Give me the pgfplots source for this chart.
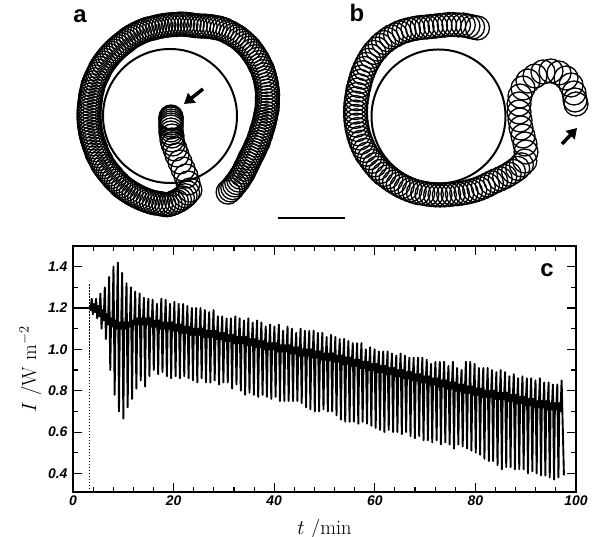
\documentclass[border=0pt]{standalone}
\usepackage{fontspec}
\setsansfont{Liberation Sans}
\usepackage{pgfplots}
\pgfplotsset{compat=1.18}
\usetikzlibrary{arrows.meta}

% one hidden axis over the whole page, for the drawings of panels a and b
\pgfplotsset{sketch/.style={hide axis, clip=false, scale only axis,
    width=595bp, height=537bp, at={(0,0)}, anchor=south west},
  loop/.style={only marks, mark=o, mark size=12bp, mark options={line width=1.3pt}}}

\begin{document}
\begin{tikzpicture}
\path[use as bounding box] (0,0) rectangle (595bp,537bp);

% panel a: ring of tip loops, polar about (178,115) of the image
\begin{axis}[sketch, xmin=-178, xmax=417, ymin=-422, ymax=115]
\addplot[data cs=polar, loop] coordinates {
(-57,92) (-55,91.5) (-53,91) (-51,90) (-49,89.5) (-47,89) (-45,88) (-43,87.5) (-41,87) (-39,86)
(-37,85.5) (-35,85) (-33,84.5) (-31,84) (-29,84) (-27,84) (-25,84) (-23,84) (-21,84) (-19,84.5)
(-17,84.5) (-15,84.5) (-13,85) (-11,85) (-9,85.5) (-7,86) (-5,86.5) (-3,87) (-1,87.5) (1,88)
(3,89) (5,89.5) (7,90) (9,90.5) (11,91) (13,92) (15,92.5) (17,93) (19,93.5) (21,94)
(23,94.5) (25,95) (27,95.5) (29,96) (31,96) (33,96.5) (35,97) (37,97) (39,97.5) (41,97.5)
(43,98) (45,98) (47,98) (49,98) (51,98) (53,98) (55,97.5) (57,97.5) (59,97) (61,97)
(63,96.5) (65,96) (67,95) (69,94.5) (71,93.5) (73,93) (75,92) (77,91.5) (79,91) (81,91)
(83,91) (85,91) (87,91) (89,91) (91,90.5) (93,90.5) (95,90.5) (97,90.5) (99,90.5) (101,90.5)
(103,90.5) (105,90.5) (107,90.5) (109,91) (111,91) (113,91) (115,91) (117,91) (119,91) (121,91)
(123,91) (125,90.5) (127,90.5) (129,90.5) (131,90.5) (133,90.5) (135,90.5) (137,90.5) (139,90.5) (141,90.5)
(143,90.5) (145,90.5) (147,90.5) (149,90.5) (151,90) (153,90) (155,90) (157,90) (159,90) (161,90)
(163,89.5) (165,89.5) (167,89.5) (169,89) (171,89) (173,89) (175,89) (177,89) (179,89) (181,89)
(183,89) (185,89) (187,89) (189,89) (191,89) (193,89) (195,89) (197,89) (199,89) (201,89)
(203,89) (205,89.5) (207,89.5) (209,89.5) (211,89.5) (213,90) (215,90) (217,90) (219,90) (221,90)
(223,90) (225,90.5) (227,90.5) (229,90.5) (231,91) (233,91) (235,91) (237,91) (239,91) (241,91)
(243,91) (245,91) (247,91) (249,91) (251,91) (253,91) (255,91) (257,90.5) (259,90.5) (261,90.5)
(263,90.5) (265,89.5) (267,88) (269,86.5) (271,85) (273,83) (275,81) (277,78.5) (279,76)
};
\end{axis}

% panel b: ring of tip loops, polar about (440,112) of the image
\begin{axis}[sketch, xmin=-440, xmax=155, ymin=-425, ymax=112]
\addplot[data cs=polar, loop] coordinates {
(66,92) (69,91) (72,90.5) (75,90) (78,89) (81,88.5) (84,88) (87,87) (90,86.5) (93,86)
(96,86) (99,86) (102,86.5) (105,87) (108,87.5) (111,88) (114,88.5) (117,89) (120,89) (123,89.5)
(126,89.5) (129,89.5) (132,89.5) (135,89) (138,89) (141,88.5) (144,88) (147,87.5) (150,87) (153,86.5)
(156,86) (159,85.5) (162,85) (165,85) (168,84.5) (171,84.5) (174,84.5) (177,84.5) (180,84.5) (183,84.5)
(186,84.5) (189,84.5) (192,84.5) (195,84.5) (198,84.5) (201,84.5) (204,84.5) (207,84.5) (210,84.5) (213,84)
(216,84) (219,84) (222,84) (225,84) (228,84) (231,83.5) (234,83.5) (237,83.5) (240,83.5) (243,83.5)
(246,83.5) (249,83.5) (252,83.5) (255,83.5) (258,83) (261,83) (264,83) (267,83) (270,83) (273,83)
(276,83) (279,83) (282,83.5) (285,84) (288,84.5) (291,85) (294,85.5) (297,86) (300,86.5) (303,87)
(306,87.5) (309,88.5) (312,90) (315,91.5) (318,93) (321,94.5) (324,96) (327,97) (330,98)
};
\end{axis}

% image coordinates: x to the right, y = minus the image row
\begin{axis}[sketch, xmin=0, xmax=595, ymin=-537, ymax=0]
% trail of panel a into the centre
\addplot[loop] coordinates {
(188,-183) (186,-176) (183,-169) (180,-162) (177,-155) (175,-149) (173,-144) (172,-140) (172,-136)
(171,-133) (171,-130) (171,-127) (171,-125) (171,-123) (171,-121) (171,-119) (171,-118) (171,-117)
};
% hook of panel b
\addplot[loop] coordinates {
(526,-152) (525,-144) (523,-136) (521,-128) (520,-120) (519,-112) (519,-104) (520,-96) (523,-88)
(528,-81) (535,-76) (543,-72) (551,-71) (559,-73) (566,-78) (571,-85) (574,-93) (575,-100) (576,-104)
};
% reference circles
\addplot[only marks, mark=o, mark size=67bp, mark options={line width=2pt}] coordinates {
(170,-116) (438.5,-116.5)
};
% scale bar
\addplot[line width=2.8pt] coordinates {(278,-218) (345,-218)};
% arrows
\addplot[line width=3.5bp, -{Triangle[length=10bp,width=12bp]}] coordinates {(203,-89) (184,-104)};
\addplot[line width=3.5bp, -{Triangle[length=10bp,width=12bp]}] coordinates {(562,-144) (577,-128)};
% panel letters
\node[font=\fontsize{24}{26}\selectfont\sffamily\bfseries, anchor=base] at (axis cs:80,-23) {a};
\node[font=\fontsize{24}{26}\selectfont\sffamily\bfseries, anchor=base] at (axis cs:357,-22) {b};
\node[font=\fontsize{24}{26}\selectfont\sffamily\bfseries, anchor=base] at (axis cs:547,-277) {c};
\end{axis}

% panel c: intensity against time
\begin{axis}[
    at={(73bp,45bp)}, anchor=south west, scale only axis,
    width=503bp, height=246bp,
    xmin=0, xmax=100, ymin=0.31, ymax=1.5,
    xtick={0,20,40,60,80,100}, minor x tick num=4,
    ytick={0.4,0.6,0.8,1.0,1.2,1.4}, minor y tick num=1,
    tick align=inside, major tick length=9bp, minor tick length=5bp,
    axis line style={line width=1.4pt},
    tick style={line width=1.1pt, black},
    /pgf/number format/assume math mode=true,
    ticklabel style={font=\fontsize{14}{16}\selectfont\sffamily\bfseries\itshape},
    yticklabel style={xshift=-2bp, /pgf/number format/.cd, fixed, fixed zerofill, precision=1},
    label style={font=\fontsize{20.5}{24}\selectfont},
    xlabel style={yshift=-7bp},
    xlabel={$t$ /min},
    ylabel={$I$ /W m$^{-2}$},
]
\addplot[line width=0.8pt, dash pattern=on 1.5pt off 1.5pt] coordinates {(3.3,0.31) (3.3,1.318)};
\addplot[line width=1.9pt, line join=round] coordinates {
(0,1.2) (3.3,1.2)
(3.50,1.19) (3.72,1.245) (3.95,1.17) (4.12,1.22)
(4.37,1.18) (4.59,1.245) (4.82,1.15) (4.99,1.21)
(5.23,1.16) (5.45,1.27) (5.68,1.10) (5.85,1.19)
(6.10,1.14) (6.32,1.30) (6.55,1.05) (6.72,1.17)
(6.96,1.12) (7.18,1.35) (7.41,0.90) (7.58,1.15)
(7.83,1.11) (8.05,1.40) (8.28,0.78) (8.45,1.14)
(8.69,1.10) (8.91,1.42) (9.14,0.70) (9.31,1.13)
(9.56,1.10) (9.78,1.37) (10.01,0.665) (10.18,1.13)
(10.42,1.10) (10.64,1.32) (10.87,0.72) (11.04,1.13)
(11.29,1.11) (11.51,1.30) (11.74,0.76) (11.91,1.14)
(12.15,1.12) (12.37,1.28) (12.60,0.81) (12.77,1.15)
(13.02,1.12) (13.24,1.27) (13.47,0.85) (13.64,1.15)
(13.88,1.12) (14.10,1.25) (14.33,0.82) (14.50,1.15)
(14.75,1.12) (14.97,1.245) (15.20,0.87) (15.37,1.15)
(15.61,1.11) (15.83,1.24) (16.06,0.90) (16.23,1.14)
(16.48,1.11) (16.70,1.22) (16.93,0.88) (17.10,1.14)
(17.34,1.10) (17.56,1.245) (17.79,0.89) (17.96,1.13)
(18.21,1.10) (18.43,1.24) (18.66,0.87) (18.83,1.13)
(19.07,1.10) (19.29,1.22) (19.52,0.86) (19.69,1.13)
(19.94,1.09) (20.16,1.23) (20.39,0.87) (20.56,1.12)
(20.80,1.09) (21.02,1.22) (21.25,0.86) (21.42,1.12)
(21.67,1.08) (21.89,1.22) (22.12,0.87) (22.29,1.11)
(22.53,1.08) (22.75,1.21) (22.98,0.86) (23.15,1.11)
(23.40,1.07) (23.62,1.20) (23.85,0.85) (24.02,1.10)
(24.26,1.07) (24.48,1.20) (24.71,0.84) (24.88,1.10)
(25.13,1.07) (25.35,1.20) (25.58,0.86) (25.75,1.10)
(25.99,1.06) (26.21,1.19) (26.44,0.84) (26.61,1.09)
(26.86,1.06) (27.08,1.18) (27.31,0.84) (27.48,1.09)
(27.72,1.06) (27.94,1.19) (28.17,0.85) (28.34,1.09)
(28.59,1.05) (28.81,1.16) (29.04,0.83) (29.21,1.08)
(29.45,1.05) (29.67,1.16) (29.90,0.84) (30.07,1.08)
(30.32,1.04) (30.54,1.15) (30.77,0.84) (30.94,1.07)
(31.18,1.04) (31.40,1.15) (31.63,0.81) (31.80,1.07)
(32.05,1.03) (32.27,1.16) (32.50,0.83) (32.67,1.06)
(32.91,1.03) (33.13,1.15) (33.36,0.80) (33.53,1.06)
(33.78,1.03) (34.00,1.14) (34.23,0.78) (34.40,1.06)
(34.64,1.02) (34.86,1.15) (35.09,0.79) (35.26,1.05)
(35.51,1.02) (35.73,1.13) (35.96,0.78) (36.13,1.05)
(36.37,1.01) (36.59,1.14) (36.82,0.77) (36.99,1.04)
(37.24,1.01) (37.46,1.13) (37.69,0.78) (37.86,1.04)
(38.10,1.00) (38.32,1.11) (38.55,0.77) (38.72,1.03)
(38.97,1.00) (39.19,1.12) (39.42,0.76) (39.59,1.03)
(39.83,1.00) (40.05,1.11) (40.28,0.77) (40.45,1.03)
(40.70,0.99) (40.92,1.12) (41.15,0.75) (41.32,1.02)
(41.56,0.99) (41.78,1.09) (42.01,0.75) (42.18,1.02)
(42.43,0.99) (42.65,1.11) (42.88,0.75) (43.05,1.02)
(43.29,0.98) (43.51,1.10) (43.74,0.75) (43.91,1.01)
(44.16,0.98) (44.38,1.08) (44.61,0.75) (44.78,1.01)
(45.02,0.97) (45.24,1.10) (45.47,0.74) (45.64,1.00)
(45.89,0.97) (46.11,1.09) (46.34,0.72) (46.51,1.00)
(46.75,0.97) (46.97,1.09) (47.20,0.71) (47.37,1.00)
(47.62,0.96) (47.84,1.09) (48.07,0.70) (48.24,0.99)
(48.48,0.96) (48.70,1.08) (48.93,0.70) (49.10,0.99)
(49.35,0.95) (49.57,1.08) (49.80,0.71) (49.97,0.98)
(50.21,0.95) (50.43,1.06) (50.66,0.70) (50.83,0.98)
(51.08,0.95) (51.30,1.07) (51.53,0.70) (51.70,0.98)
(51.94,0.94) (52.16,1.06) (52.39,0.68) (52.56,0.97)
(52.81,0.94) (53.03,1.05) (53.26,0.66) (53.43,0.97)
(53.67,0.93) (53.89,1.05) (54.12,0.65) (54.29,0.96)
(54.54,0.93) (54.76,1.04) (54.99,0.65) (55.16,0.96)
(55.40,0.92) (55.62,1.03) (55.85,0.65) (56.02,0.95)
(56.27,0.92) (56.49,1.03) (56.72,0.64) (56.89,0.95)
(57.13,0.91) (57.35,1.03) (57.58,0.65) (57.75,0.94)
(58.00,0.91) (58.22,1.00) (58.45,0.64) (58.62,0.94)
(58.86,0.90) (59.08,1.01) (59.31,0.63) (59.48,0.93)
(59.73,0.90) (59.95,1.00) (60.18,0.62) (60.35,0.93)
(60.59,0.89) (60.81,0.99) (61.04,0.61) (61.21,0.92)
(61.46,0.89) (61.68,0.99) (61.91,0.60) (62.08,0.92)
(62.32,0.88) (62.54,0.99) (62.77,0.61) (62.94,0.91)
(63.19,0.88) (63.41,0.98) (63.64,0.60) (63.81,0.91)
(64.05,0.87) (64.27,0.97) (64.50,0.60) (64.67,0.90)
(64.92,0.87) (65.14,0.98) (65.37,0.59) (65.54,0.90)
(65.78,0.86) (66.00,0.97) (66.23,0.60) (66.40,0.89)
(66.65,0.86) (66.87,0.96) (67.10,0.58) (67.27,0.89)
(67.51,0.85) (67.73,0.96) (67.96,0.57) (68.13,0.88)
(68.38,0.85) (68.60,0.96) (68.83,0.58) (69.00,0.88)
(69.24,0.84) (69.46,0.96) (69.69,0.56) (69.86,0.87)
(70.11,0.84) (70.33,0.95) (70.56,0.56) (70.73,0.87)
(70.97,0.83) (71.19,0.93) (71.42,0.55) (71.59,0.86)
(71.84,0.83) (72.06,0.94) (72.29,0.56) (72.46,0.86)
(72.70,0.82) (72.92,0.94) (73.15,0.54) (73.32,0.85)
(73.57,0.82) (73.79,0.94) (74.02,0.55) (74.19,0.85)
(74.43,0.81) (74.65,0.92) (74.88,0.54) (75.05,0.84)
(75.30,0.81) (75.52,0.94) (75.75,0.52) (75.92,0.84)
(76.16,0.80) (76.38,0.91) (76.61,0.54) (76.78,0.83)
(77.03,0.80) (77.25,0.90) (77.48,0.53) (77.65,0.83)
(77.89,0.79) (78.11,0.94) (78.34,0.52) (78.51,0.82)
(78.76,0.79) (78.98,0.94) (79.21,0.51) (79.38,0.82)
(79.62,0.78) (79.84,0.93) (80.07,0.50) (80.24,0.81)
(80.49,0.78) (80.71,0.91) (80.94,0.49) (81.11,0.81)
(81.35,0.77) (81.57,0.91) (81.80,0.47) (81.97,0.80)
(82.22,0.77) (82.44,0.91) (82.67,0.46) (82.84,0.80)
(83.08,0.77) (83.30,0.90) (83.53,0.46) (83.70,0.80)
(83.95,0.76) (84.17,0.89) (84.40,0.44) (84.57,0.79)
(84.81,0.76) (85.03,0.90) (85.26,0.42) (85.43,0.79)
(85.68,0.76) (85.90,0.89) (86.13,0.43) (86.30,0.79)
(86.54,0.75) (86.76,0.87) (86.99,0.43) (87.16,0.78)
(87.41,0.75) (87.63,0.88) (87.86,0.42) (88.03,0.78)
(88.27,0.74) (88.49,0.86) (88.72,0.42) (88.89,0.77)
(89.14,0.74) (89.36,0.87) (89.59,0.42) (89.76,0.77)
(90.00,0.73) (90.22,0.86) (90.45,0.40) (90.62,0.76)
(90.87,0.73) (91.09,0.86) (91.32,0.41) (91.49,0.76)
(91.73,0.72) (91.95,0.85) (92.18,0.40) (92.35,0.75)
(92.60,0.72) (92.82,0.86) (93.05,0.39) (93.22,0.75)
(93.46,0.72) (93.68,0.84) (93.91,0.39) (94.08,0.75)
(94.33,0.71) (94.55,0.84) (94.78,0.38) (94.95,0.74)
(95.19,0.71) (95.41,0.83) (95.64,0.37) (95.81,0.74)
(96.06,0.71) (96.28,0.83) (96.51,0.38) (96.68,0.74)
(96.92,0.70) (97.14,0.85) (97.60,0.39)
};
\end{axis}
\end{tikzpicture}
\end{document}
